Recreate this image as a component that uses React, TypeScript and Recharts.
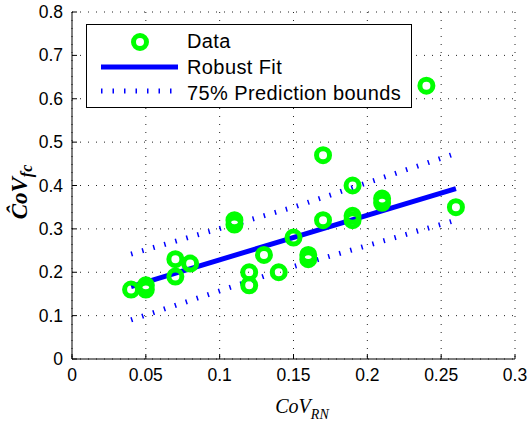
import React from 'react'
import { ComposedChart, Scatter, Line, XAxis, YAxis, CartesianGrid, Legend } from 'recharts'

// observed points
const covRN = [0.04, 0.05, 0.05, 0.07, 0.07, 0.08, 0.11, 0.11, 0.12, 0.12, 0.13, 0.14, 0.15, 0.16, 0.16, 0.17, 0.17, 0.19, 0.19, 0.19, 0.21, 0.21, 0.24, 0.26]
const covFc = [0.16, 0.16, 0.17, 0.23, 0.19, 0.22, 0.32, 0.31, 0.20, 0.17, 0.24, 0.20, 0.28, 0.24, 0.23, 0.47, 0.32, 0.40, 0.33, 0.32, 0.37, 0.36, 0.63, 0.35]

// robust fit and 75% prediction bounds
const fitX = [0.04, 0.26]
const fitY = [0.167, 0.393]
const boundX = [0.04, 0.15, 0.26]
const upperY = [0.242, 0.35, 0.474]
const lowerY = [0.09, 0.213, 0.32]

const xTicks = [0, 0.05, 0.1, 0.15, 0.2, 0.25, 0.3]
const yTicks = [0, 0.1, 0.2, 0.3, 0.4, 0.5, 0.6, 0.7, 0.8]

const points = covRN.map((x, i) => ({ x, y: covFc[i] }))
const fit = fitX.map((x, i) => ({ x, y: fitY[i] }))
const upper = boundX.map((x, i) => ({ x, y: upperY[i] }))
const lower = boundX.map((x, i) => ({ x, y: lowerY[i] }))

const GREEN = '#00ff00'
const BLUE = '#0000ff'
const tickFont = "'Liberation Sans', Arial, Helvetica, sans-serif"
const serif = "'Liberation Serif', 'Times New Roman', serif"
const DOTS = '1.5 10'

const Ring = (props: any) => (
  <circle cx={props.cx} cy={props.cy} r={6.5} fill="none" stroke={GREEN} strokeWidth={5} />
)

const BottomTick = (props: any) => {
  const { x, y, payload } = props
  return (
    <g>
      <line x1={x} x2={x} y1={y} y2={y - 5} stroke="#000" />
      <text x={x} y={y + 22} textAnchor="middle" fontSize={17.5} fontFamily={tickFont} fill="#000">
        {String(payload.value)}
      </text>
    </g>
  )
}

const LeftTick = (props: any) => {
  const { x, y, payload } = props
  return (
    <g>
      <line x1={x} x2={x + 5} y1={y} y2={y} stroke="#000" />
      <text x={x - 9} y={y + 6} textAnchor="end" fontSize={17.5} fontFamily={tickFont} fill="#000">
        {String(payload.value)}
      </text>
    </g>
  )
}

const TopTick = (props: any) => (
  <line x1={props.x} x2={props.x} y1={props.y} y2={props.y + 5} stroke="#000" />
)

const RightTick = (props: any) => (
  <line x1={props.x} x2={props.x - 5} y1={props.y} y2={props.y} stroke="#000" />
)

const LegendBox = () => (
  <svg width={326} height={84} style={{ display: 'block' }}>
    <rect x={0.5} y={0.5} width={325} height={83} fill="#fff" stroke="#000" />
    <circle cx={54} cy={18} r={6.5} fill="none" stroke={GREEN} strokeWidth={5} />
    <line x1={15} x2={92} y1={43} y2={43} stroke={BLUE} strokeWidth={5} />
    <line x1={15} x2={90} y1={67} y2={67} stroke={BLUE} strokeWidth={5} strokeDasharray={DOTS} />
    <g fontFamily={tickFont} fontSize={20} letterSpacing={0.4} fill="#000">
      <text x={101} y={23.5}>Data</text>
      <text x={101} y={49.5}>Robust Fit</text>
      <text x={101} y={76}>75% Prediction bounds</text>
    </g>
  </svg>
)

const XLabel = () => (
  <text x={302} y={413} textAnchor="middle" fontFamily={serif} fontStyle="italic" fontSize={20} fill="#000">
    CoV
    <tspan fontSize={14} dy={6}>RN</tspan>
  </text>
)

const YLabel = () => (
  <text
    x={27}
    y={192}
    transform="rotate(-90 27 192)"
    textAnchor="middle"
    fontFamily={serif}
    fontStyle="italic"
    fontWeight="bold"
    fontSize={23}
    fill="#000"
  >
    ĈoV
    <tspan fontSize={16} dy={5}>fc</tspan>
  </text>
)

export default function App() {
  return (
    <div style={{ position: 'absolute', left: 0, top: 0, width: 528, height: 421, background: '#fff' }}>
      <ComposedChart width={528} height={421} margin={{ top: 12, right: 13, bottom: 0, left: 12 }}>
        <CartesianGrid xAxisId="b" yAxisId="l" stroke="#222" strokeDasharray="1 7" />
        <XAxis
          xAxisId="b"
          type="number"
          dataKey="x"
          domain={[0, 0.3]}
          ticks={xTicks}
          height={62}
          tickSize={0}
          tickMargin={0}
          tick={<BottomTick />}
          axisLine={{ stroke: '#000' }}
          label={<XLabel />}
        />
        <XAxis
          xAxisId="t"
          orientation="top"
          type="number"
          dataKey="x"
          domain={[0, 0.3]}
          ticks={xTicks}
          height={0}
          tickSize={0}
          tickMargin={0}
          tick={<TopTick />}
          axisLine={{ stroke: '#000' }}
        />
        <YAxis
          yAxisId="l"
          type="number"
          dataKey="y"
          domain={[0, 0.8]}
          ticks={yTicks}
          width={60}
          tickSize={0}
          tickMargin={0}
          tick={<LeftTick />}
          axisLine={{ stroke: '#000' }}
          label={<YLabel />}
        />
        <YAxis
          yAxisId="r"
          orientation="right"
          type="number"
          dataKey="y"
          domain={[0, 0.8]}
          ticks={yTicks}
          width={0}
          tickSize={0}
          tickMargin={0}
          tick={<RightTick />}
          axisLine={{ stroke: '#000' }}
        />
        <Line
          xAxisId="b"
          yAxisId="l"
          data={upper}
          dataKey="y"
          type="linear"
          stroke={BLUE}
          strokeWidth={5}
          strokeDasharray={DOTS}
          dot={false}
          activeDot={false}
          isAnimationActive={false}
        />
        <Line
          xAxisId="b"
          yAxisId="l"
          data={lower}
          dataKey="y"
          type="linear"
          stroke={BLUE}
          strokeWidth={5}
          strokeDasharray={DOTS}
          dot={false}
          activeDot={false}
          isAnimationActive={false}
        />
        <Scatter xAxisId="b" yAxisId="l" data={points} dataKey="y" shape={<Ring />} isAnimationActive={false} />
        <Line
          xAxisId="b"
          yAxisId="l"
          data={fit}
          dataKey="y"
          type="linear"
          stroke={BLUE}
          strokeWidth={5}
          dot={false}
          activeDot={false}
          isAnimationActive={false}
        />
        <Legend
          layout="vertical"
          align="center"
          verticalAlign="middle"
          wrapperStyle={{ left: 86, top: 24, width: 326, height: 84 }}
          content={() => <LegendBox />}
        />
      </ComposedChart>
    </div>
  )
}
